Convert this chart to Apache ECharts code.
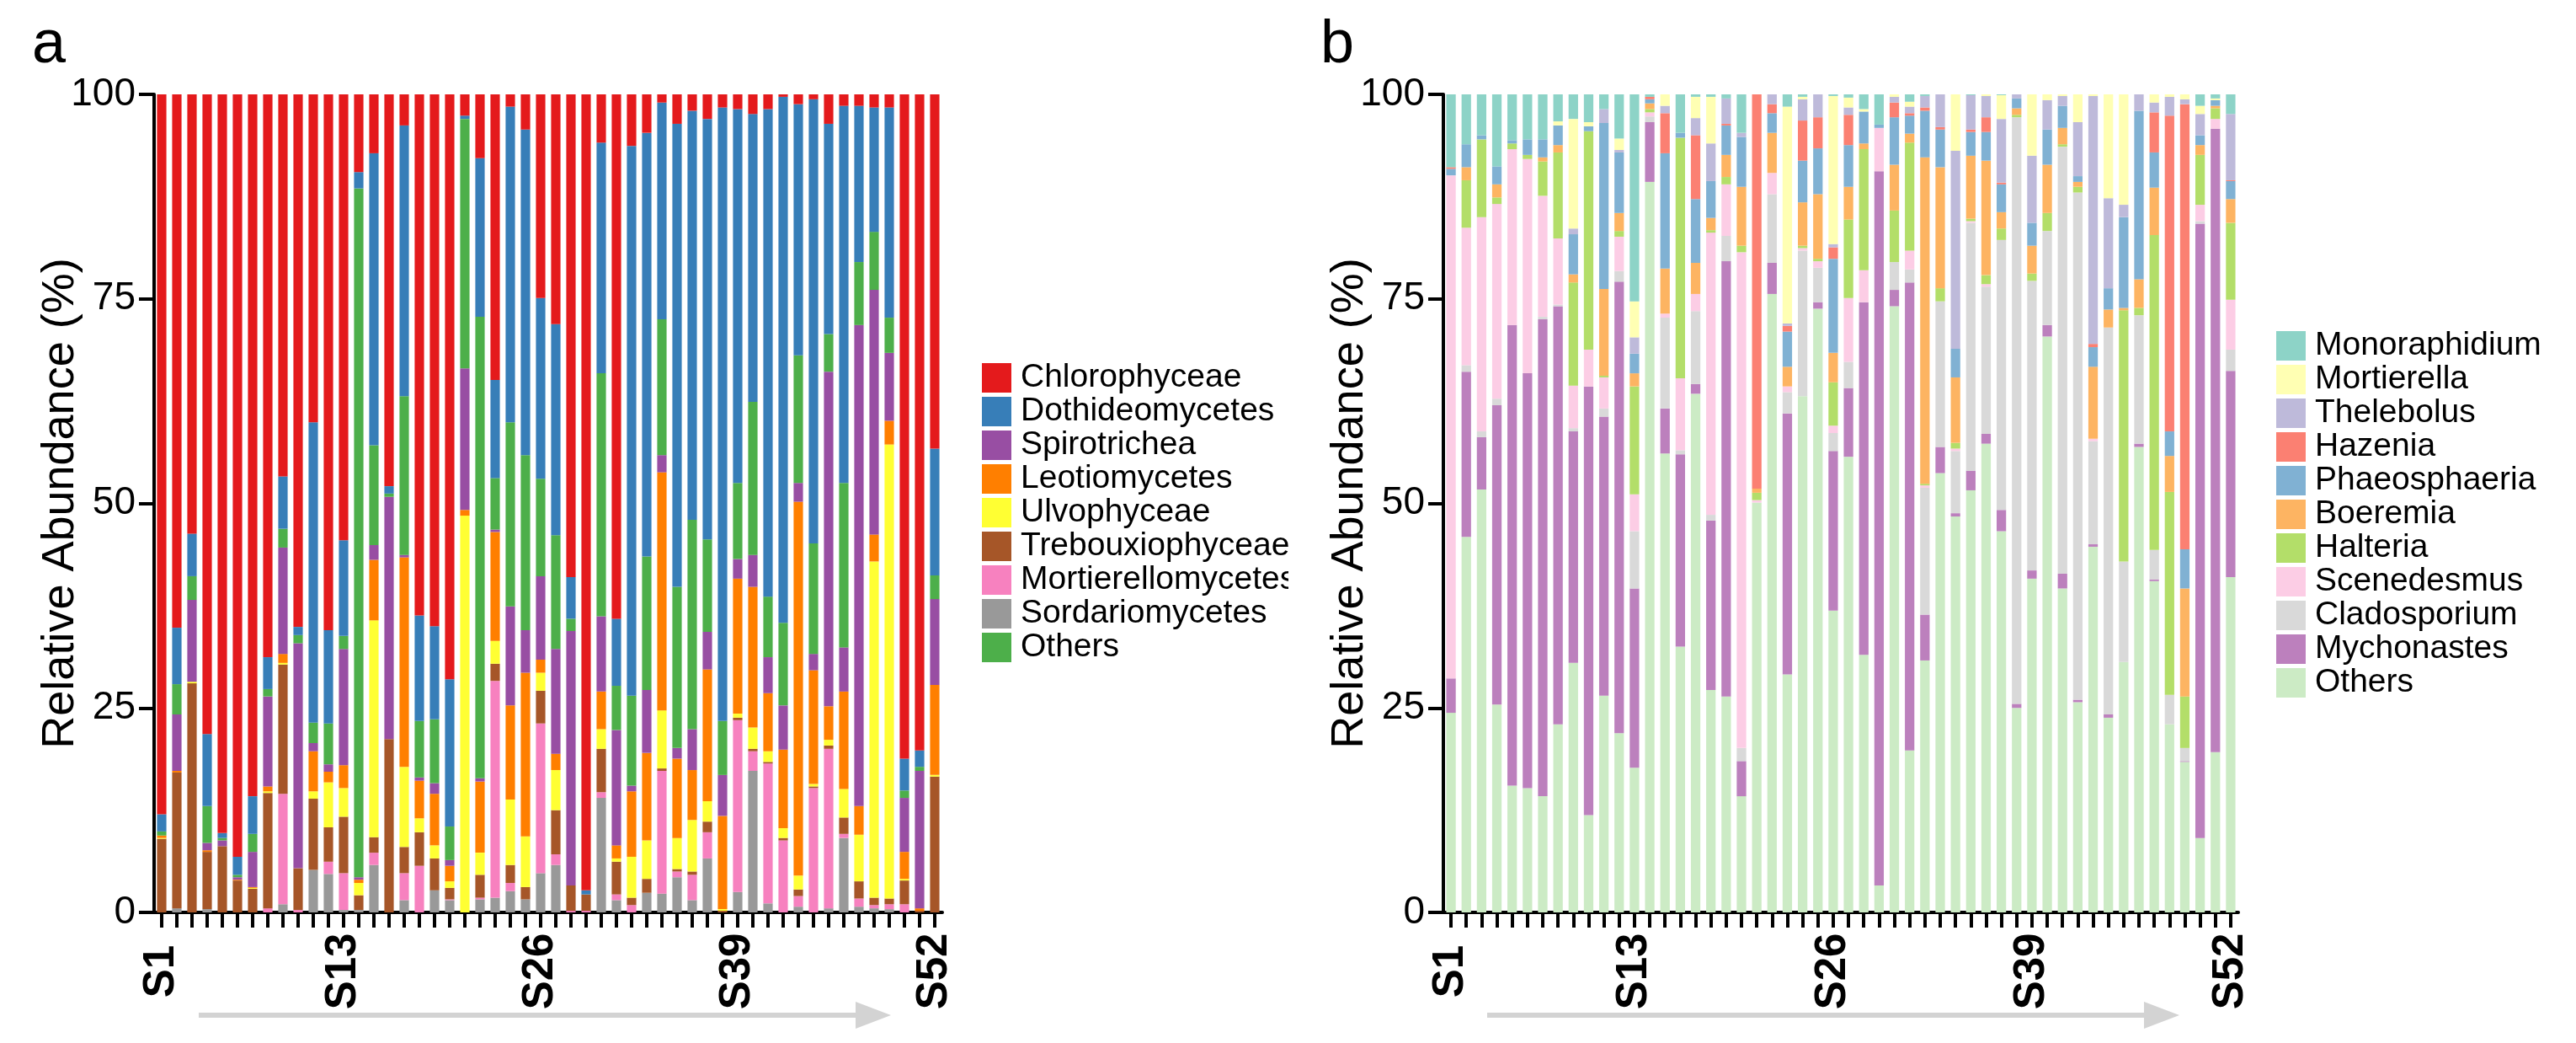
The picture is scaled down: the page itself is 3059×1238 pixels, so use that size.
<!DOCTYPE html>
<html>
<head>
<meta charset="utf-8">
<script src="https://cdn.jsdelivr.net/npm/echarts@6/dist/echarts.min.js"></script>
<style>
  html, body { margin: 0; padding: 0; background: #fff; }
  #wrap { width: 3059px; height: 1238px; position: relative; }
  #chartA { position: absolute; left: 0; top: 0; width: 1530px; height: 1238px; }
  #chartB { position: absolute; left: 1530px; top: 0; width: 1529px; height: 1238px; }
</style>
</head>
<body>
<div id="wrap">
  <div id="chartA"></div>
  <div id="chartB"></div>
</div>
<script>
const samples = [];
for (let i = 1; i <= 52; i++) samples.push('S' + i);
const shownLabels = [0, 12, 25, 38, 51];
const yTicks = [0, 25, 50, 75, 100];

// ---- panel a (class level), bottom -> top stacking order
const sordariomycetes = [0,0.5,0,0.4,0,0,0,0,1.0,0,5.2,4.7,0.3,0.3,5.8,0,1.5,0,2.7,1.5,0,1.6,1.8,2.6,1.6,4.8,5.8,0,0,14.0,1.5,0,2.4,2.3,4.3,1.5,6.6,0,2.5,17.3,1.1,0,0.7,0,0.5,9.1,0.7,0.5,0.4,0,0,0];
const mortierellomycetes = [0,0,0,0,0,0,0,0.5,13.5,0.3,0,1.5,4.5,0,1.5,0,3.3,5.7,0,0.1,0,0.2,26.5,1.0,0,18.3,1.3,0.2,0.2,0.7,0.7,0.9,0,15.0,0.7,3.1,3.2,0,21.0,2.4,17.1,8.8,1.3,15.2,19.5,0.5,1.0,0.4,0.6,1.0,0,0];
const trebouxiophyceae = [9.0,16.6,28.0,7.0,8.1,3.9,2.9,14.1,15.8,5.1,8.7,4.2,6.9,1.8,1.9,21.2,3.2,4.1,3.9,1.4,0,2.8,2.1,2.2,1.5,4.0,5.4,3.1,2.0,5.3,4.0,0.9,1.7,0.3,0.3,0.4,1.3,0.2,0.3,0.3,0.2,0.3,0.8,0.2,0.4,2.0,2.1,0.9,0.7,2.9,0.2,16.6];
const ulvophyceae = [0.1,0,0.2,0,0,0,0.1,0.2,0.2,0,0.9,5.5,3.5,1.5,26.5,0,9.8,1.7,1.6,0.8,48.5,2.7,2.8,8.0,6.2,2.2,4.9,0,0,2.4,0.4,5.0,4.7,7.1,3.8,6.3,2.5,0.2,0.5,2.6,1.3,1.2,1.7,0.3,0.7,3.5,5.7,41.1,55.5,0.2,0,0.2];
const leotiomycetes = [0.3,0.2,0,0.2,0,0.1,0.1,0.6,1.1,0,4.9,1.3,2.8,0.4,7.4,0,25.6,4.6,6.3,1.9,0.7,8.7,13.3,11.5,20.0,1.6,2.0,0,0,4.6,1.6,8.0,10.7,29.1,9.7,6.1,16.1,11.4,16.5,17.2,7.1,9.6,45.7,13.9,4.1,11.9,3.5,3.3,2.9,3.3,0.3,11.0];
const spirotrichea = [0,6.9,10.0,0.9,0.7,0.3,4.3,11.0,13.0,27.5,1.0,0.9,14.2,0.3,1.8,29.6,0.3,0.4,1.3,0.7,17.3,0.4,0.3,12.1,5.2,10.2,12.8,31.1,0,9.2,14.1,0.7,7.7,2.1,1.3,5.0,4.6,5.0,2.4,3.9,4.4,5.4,2.3,2.0,40.9,5.4,58.8,29.9,8.3,6.6,16.8,10.5];
const othersA = [0.5,3.7,2.9,4.5,0.3,0.3,2.2,0.9,2.3,1.0,2.5,5.0,1.6,84.2,12.2,0.4,19.4,6.9,7.8,4.1,30.5,56.4,6.3,22.5,21.4,11.9,13.9,1.5,0,29.7,5.4,11.0,16.3,16.6,19.7,25.6,11.3,6.6,9.3,18.7,7.4,10.1,15.6,13.5,4.6,20.1,7.7,7.1,4.3,0.9,0.5,2.9];
const dothideomycetes = [2.1,6.9,5.2,8.8,0.6,2.2,4.6,3.9,6.4,1.0,36.7,11.4,11.7,2.0,35.7,0.9,33.1,12.9,11.4,18.0,0.4,19.4,12.0,38.6,39.8,22.1,25.8,5.1,0.5,28.2,8.2,67.2,51.8,26.5,56.6,50.0,51.4,75.0,45.7,35.2,59.6,64.3,30.7,54.3,25.7,46.1,19.1,15.2,25.7,3.9,2.0,15.5];
const chlorophyceae = [88.0,65.2,53.7,78.2,90.3,93.2,85.8,68.8,46.7,65.1,40.1,65.5,54.5,9.5,7.2,47.9,3.8,63.7,65.0,71.5,2.6,7.8,34.9,1.5,4.3,24.9,28.1,59.0,97.3,5.9,64.1,6.3,4.7,1.0,3.6,2.0,3.0,1.6,1.8,2.4,1.8,0.3,1.2,0.6,3.6,1.4,1.4,1.6,1.6,81.2,80.2,43.3];

const namesA = ['Sordariomycetes','Mortierellomycetes','Trebouxiophyceae','Ulvophyceae','Leotiomycetes','Spirotrichea','Others','Dothideomycetes','Chlorophyceae'];
const valuesA = [sordariomycetes, mortierellomycetes, trebouxiophyceae, ulvophyceae, leotiomycetes, spirotrichea, othersA, dothideomycetes, chlorophyceae];
const colorsA = ['#999999','#f781bf','#a65628','#ffff33','#ff7f00','#984ea3','#4daf4a','#377eb8','#e41a1c'];
const legendA = ['Chlorophyceae','Dothideomycetes','Spirotrichea','Leotiomycetes','Ulvophyceae','Trebouxiophyceae','Mortierellomycetes','Sordariomycetes','Others'];

// ---- panel b (genus level), bottom -> top stacking order
const othersB = [24.4,45.9,51.7,25.4,15.5,15.2,14.2,23.0,30.5,11.9,26.5,21.9,17.7,89.3,56.1,32.5,63.4,27.2,26.4,14.2,50.1,75.6,29.1,63.1,73.8,36.9,55.7,31.5,3.3,74.1,19.8,30.8,53.7,48.4,51.6,57.3,46.6,25.0,40.8,70.4,39.6,25.7,44.7,23.8,30.6,56.9,40.5,23.0,18.4,9.1,19.6,41.0];
const mychonastes = [4.2,20.2,6.4,36.6,56.3,50.7,58.3,51.1,28.3,52.4,34.1,55.2,21.9,7.3,5.5,23.5,1.2,20.7,53.2,4.3,0,3.8,31.9,0,0.8,19.5,8.4,43.1,87.3,2.0,57.2,5.6,3.2,0.4,2.4,1.2,2.6,0.5,1.0,1.4,1.8,0.3,0.3,0.4,0,0.4,0.2,0,0.1,75.1,76.2,25.2];
const cladosporium = [0,0.8,0.7,0.8,0,0,0.3,0.2,0.4,0,1.0,1.3,7.0,0.7,11.1,0.5,8.9,0.7,3.1,1.6,0,8.4,2.6,17.8,4.2,2.2,3.2,0,0,3.4,1.6,15.5,17.8,7.6,30.3,18.0,33.0,71.7,35.4,11.5,52.2,62.0,12.6,47.3,12.3,15.7,3.6,3.6,1.6,0.3,0,2.6];
const scenedesmus = [61.5,16.8,26.2,23.8,21.5,26.2,14.8,8.1,5.2,4.5,3.8,4.2,4.5,0.5,0.5,8.8,2.1,34.5,6.3,60.6,0.3,2.6,0.7,0.3,0.8,0.9,7.8,3.9,5.3,0,2.3,0.3,0,0.3,0.2,0.3,0,0,0,0,0,0,0.3,0,0,0,0,0,0,2.0,1.2,6.1];
const halteria = [0,5.8,9.5,0.8,0.7,0.5,4.2,10.5,12.6,26.7,0.2,0.7,13.2,0.4,0,29.4,0,0.3,0.9,0.8,0.9,0,0,0.3,0.3,5.3,9.6,14.8,0,6.3,13.2,0.2,1.6,0.7,0.3,1.1,1.4,0.3,0.9,2.2,0.3,0.7,0,0,30.7,0.9,38.5,24.8,6.3,6.1,1.3,9.4];
const boeremia = [0,1.6,0,1.6,0,0,0.5,0.9,1.0,0,10.6,2.2,1.6,0.7,5.5,0,3.8,1.5,2.7,7.2,0.5,4.9,2.4,5.3,7.9,3.6,4.0,0.7,0,5.6,1.1,39.9,14.8,8.0,7.7,14.0,2.0,0.8,3.4,5.9,2.0,0.6,8.8,2.2,0.3,3.5,5.8,4.4,13.2,1.2,0.3,2.9];
const phaeosphaeria = [0.8,2.8,0.5,2.2,0.4,1.9,2.2,2.4,4.9,0.6,20.3,7.4,2.4,0.5,14.1,0.6,7.8,4.5,3.6,6.1,0,2.4,4.3,5.1,5.6,11.5,5.1,3.9,0.4,5.8,2.2,5.7,4.6,3.5,2.9,3.5,3.4,1.2,2.8,4.3,2.7,0.7,2.4,2.6,11.1,20.6,4.3,3.0,4.8,1.2,0.7,2.2];
const hazenia = [0.2,0,0,0,0,0,0,0,0,0,0,0,0,0.3,4.9,0,7.8,0,0.2,0,48.2,1.1,0.7,4.9,3.8,1.4,3.7,0,0,1.8,0.3,0.4,0.3,0,0.3,1.8,0.2,0,0,0,0,0,0.4,0,0,0,4.9,38.6,54.4,0,0,0.1];
const thelebolus = [0,0,0,0,0,0,0,0,0.7,0,1.7,0.3,2.0,0,0.9,0,2.1,4.6,3.1,0.5,0,1.2,0.3,2.6,2.8,0.4,0.9,0,0,0.7,0.8,1.4,4.0,24.2,4.2,2.6,7.8,0.5,8.2,3.6,1.2,6.6,30.3,11.0,1.5,2.0,1.2,2.3,0.6,2.6,0,8.1];
const mortierella = [0,0,0,0,0,0,0,0.5,13.4,0.5,0,1.4,4.4,0,1.4,0,2.6,5.7,0,0,0,0,26.5,0.3,0,18.1,1.2,0.3,0,0.3,0.6,0,0,6.9,0,0.2,2.9,0,7.5,0.7,0.2,3.4,0.2,12.7,13.5,0,1.0,0.3,0.6,1.0,0.2,0];
const monoraphidium = [8.9,6.1,5.0,8.8,5.6,5.5,5.5,3.3,3.0,3.4,1.8,5.4,25.3,0.3,0,4.7,0.3,0.3,0.5,4.7,0,0,1.5,0.3,0,0.2,0.4,1.8,3.7,0,0.9,0.2,0,0,0.1,0,0.1,0,0,0,0,0,0,0,0,0,0,0,0,1.4,0.5,2.4];

const namesB = ['Others','Mychonastes','Cladosporium','Scenedesmus','Halteria','Boeremia','Phaeosphaeria','Hazenia','Thelebolus','Mortierella','Monoraphidium'];
const valuesB = [othersB, mychonastes, cladosporium, scenedesmus, halteria, boeremia, phaeosphaeria, hazenia, thelebolus, mortierella, monoraphidium];
const colorsB = ['#ccebc5','#bc80bd','#d9d9d9','#fccde5','#b3de69','#fdb462','#80b1d3','#fb8072','#bebada','#ffffb3','#8dd3c7'];
const legendB = ['Monoraphidium','Mortierella','Thelebolus','Hazenia','Phaeosphaeria','Boeremia','Halteria','Scenedesmus','Cladosporium','Mychonastes','Others'];

const FONT = "'Liberation Sans', Arial, sans-serif";

function buildOption(letter, names, values, colors, legendOrder, gridLeft, gridWidth, legendLeft, legendTop) {
    return {
        animation: false,
        backgroundColor: '#fff',
        textStyle: { fontFamily: FONT, color: '#000' },
        grid: { left: gridLeft, top: 112, width: gridWidth, height: 971 },
        legend: {
            orient: 'vertical',
            left: legendLeft,
            top: legendTop,
            icon: 'rect',
            itemWidth: 35,
            itemHeight: 35,
            itemGap: 1,
            selectedMode: false,
            data: legendOrder,
            textStyle: {
                fontFamily: FONT,
                fontSize: 39,
                lineHeight: 35,
                color: '#000',
                padding: [0, 0, 0, 6]
            }
        },
        xAxis: {
            type: 'category',
            data: samples,
            axisLine: { lineStyle: { color: '#000', width: 4 } },
            axisTick: {
                show: true,
                alignWithLabel: true,
                interval: 0,
                length: 18,
                lineStyle: { color: '#000', width: 4 }
            },
            axisLabel: {
                interval: function (idx) { return shownLabels.indexOf(idx) >= 0; },
                rotate: 90,
                align: 'center',
                verticalAlign: 'middle',
                margin: 70,
                fontFamily: FONT,
                fontWeight: 'bold',
                fontSize: 51,
                color: '#000'
            }
        },
        yAxis: {
            type: 'value',
            min: yTicks[0],
            max: yTicks[yTicks.length - 1],
            interval: 25,
            name: 'Relative Abundance (%)',
            nameLocation: 'middle',
            nameGap: 84,
            nameMoveOverlap: false,
            nameTextStyle: { fontFamily: FONT, fontSize: 54, color: '#000' },
            axisLine: { show: true, lineStyle: { color: '#000', width: 4 } },
            axisTick: { show: true, length: 18, lineStyle: { color: '#000', width: 4 } },
            axisLabel: { margin: 22, fontFamily: FONT, fontSize: 46, color: '#000' },
            splitLine: { show: false }
        },
        graphic: [
            {
                type: 'text',
                left: 38,
                top: 18,
                style: { text: letter, font: '72px ' + FONT, fill: '#000' }
            },
            {
                type: 'line',
                shape: { x1: 236, y1: 1205, x2: 1022, y2: 1205 },
                style: { stroke: '#d3d3d3', lineWidth: 6 }
            },
            {
                type: 'polygon',
                shape: { points: [[1016, 1189], [1058, 1205], [1016, 1221]] },
                style: { fill: '#d3d3d3' }
            }
        ],
        series: names.map(function (name, i) {
            return {
                name: name,
                type: 'bar',
                stack: 'total',
                barWidth: '62%',
                itemStyle: { color: colors[i] },
                data: values[i]
            };
        })
    };
}

const chartA = echarts.init(document.getElementById('chartA'), null, { renderer: 'canvas' });
chartA.setOption(buildOption('a', namesA, valuesA, colorsA, legendA, 183, 936, 1161, 424));

const chartB = echarts.init(document.getElementById('chartB'), null, { renderer: 'canvas' });
chartB.setOption(buildOption('b', namesB, valuesB, colorsB, legendB, 184, 944, 1168, 386));

window.addEventListener('resize', function () {
    chartA.resize();
    chartB.resize();
});
</script>
</body>
</html>
